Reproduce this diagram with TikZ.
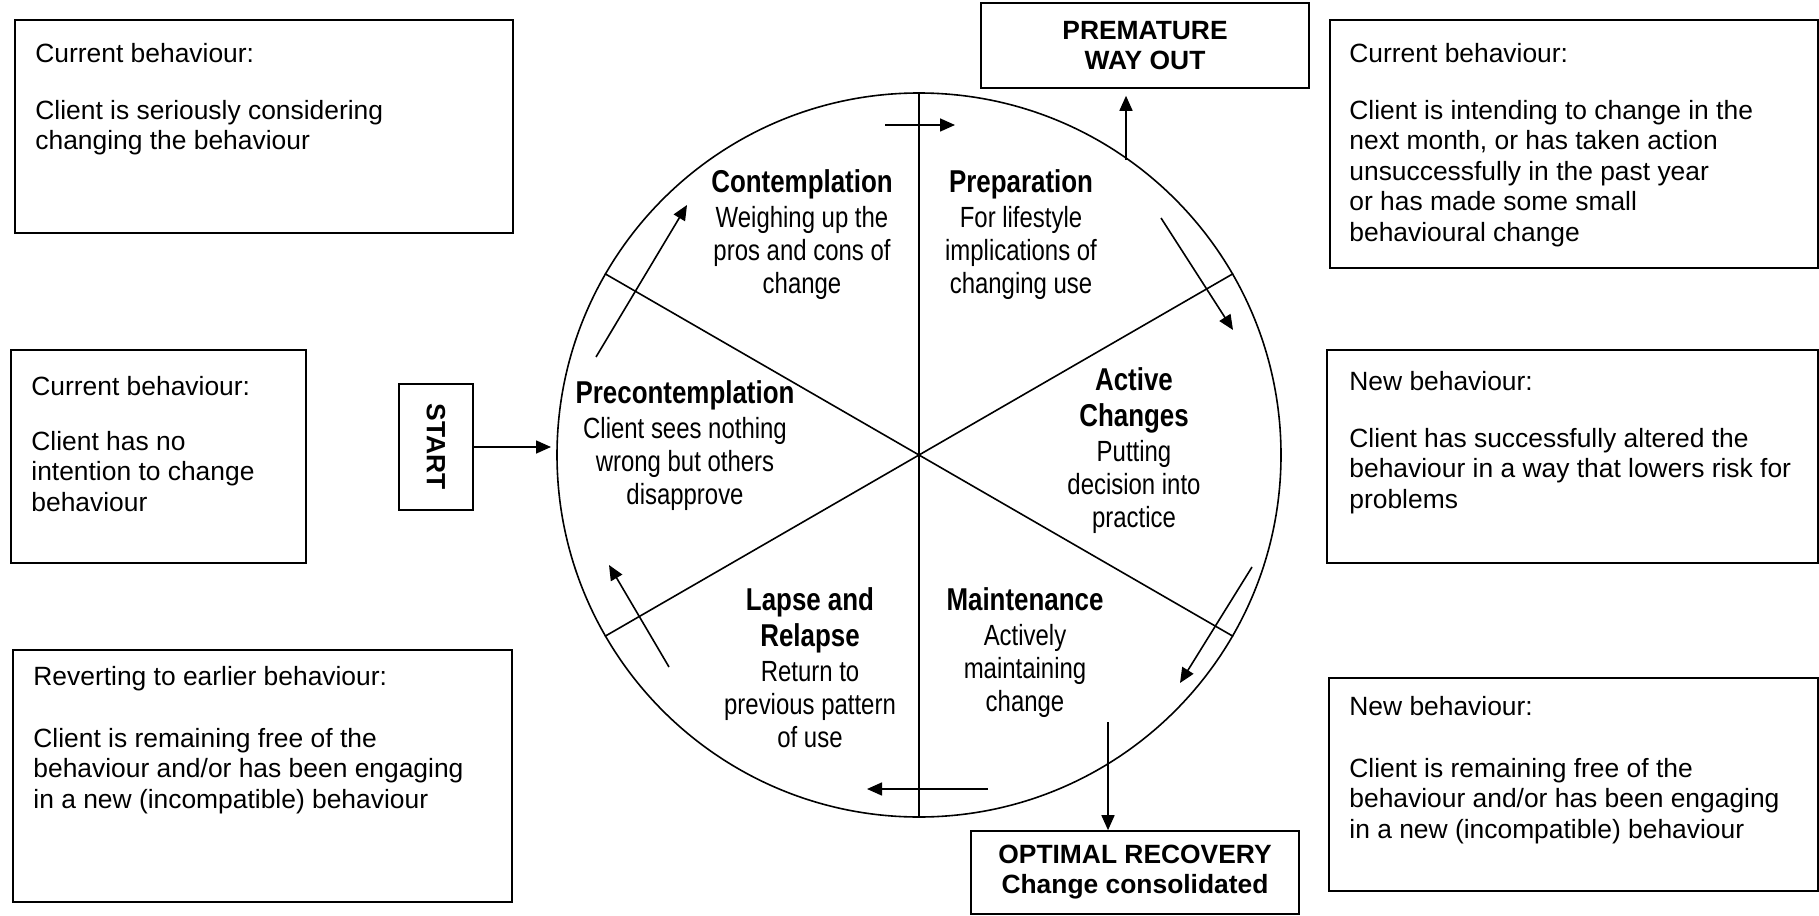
\documentclass[tikz,border=0pt]{standalone}
\usepackage{fontspec}
\setmainfont{Liberation Sans}
\newfontfamily\narrowfont[FakeStretch=0.82]{Liberation Sans}
\usetikzlibrary{arrows.meta, positioning}
\newcommand{\stagename}[1]{{\bfseries\fontsize{15.8}{18}\selectfont #1}}

\begin{document}
\begin{tikzpicture}[
    x=0.5pt, y=-0.5pt,
    infobox/.style={rectangle, draw, line width=0.8pt, anchor=north west, inner sep=0pt},
    infotext/.style={align=left, inner sep=0pt, font=\fontsize{13.2}{15.2}\selectfont},
    exitbox/.style={rectangle, draw, line width=0.8pt, align=center, inner sep=0pt, font=\bfseries\fontsize{13.2}{15}\selectfont},
    stage/.style={align=center, inner sep=0pt, font=\narrowfont\fontsize{14.6}{16.5}\selectfont},
    arrow/.style={-{Triangle[length=7.5pt, width=6.5pt]}, line width=0.8pt}
]
\useasboundingbox (0,0) rectangle (1819,915);

% Wheel with six sectors
\node[draw, circle, line width=0.8pt, minimum size=362pt, inner sep=0pt] (wheel) at (919,455) {};
\draw[line width=0.8pt] (wheel.north) -- (wheel.south);
\draw[line width=0.8pt] (wheel.150) -- (wheel.330);
\draw[line width=0.8pt] (wheel.30) -- (wheel.210);

% Stages
\node[stage] (contemp) at (802,235) {\stagename{Contemplation}\\[1pt] Weighing up the\\ pros and cons of\\ change};
\node[stage] (prep) at (1021,235) {\stagename{Preparation}\\[1pt] For lifestyle\\ implications of\\ changing use};
\node[stage] (precon) at (685,446) {\stagename{Precontemplation}\\[1pt] Client sees nothing\\ wrong but others\\ disapprove};
\node[stage] (active) at (1134,451) {\stagename{Active}\\[1.5pt] \stagename{Changes}\\[1pt] Putting\\ decision into\\ practice};
\node[stage] (lapse) at (810,668) {\stagename{Lapse and}\\[1.5pt] \stagename{Relapse}\\[1pt] Return to\\ previous pattern\\ of use};
\node[stage] (maint) at (1025,653) {\stagename{Maintenance}\\[1pt] Actively\\ maintaining\\ change};

% Ends of the cycle arrows
\coordinate (cp1) at (885,125);
\coordinate (cp2) at (955,125);
\coordinate (pa1) at (1161,218);
\coordinate (pa2) at (1233,330);
\coordinate (am1) at (1252,567);
\coordinate (am2) at (1180,683);
\coordinate (ml1) at (988,789);
\coordinate (ml2) at (867,789);
\coordinate (lp1) at (669,667);
\coordinate (lp2) at (609,565);
\coordinate (pc1) at (596,357);
\coordinate (pc2) at (687,205);
\coordinate (exitup) at (1126,160);
\coordinate (exitdown) at (1108,722);
\coordinate (entry) at (551,447);

% Cycle arrows
\draw[arrow] (cp1) -- (cp2);
\draw[arrow] (pa1) -- (pa2);
\draw[arrow] (am1) -- (am2);
\draw[arrow] (ml1) -- (ml2);
\draw[arrow] (lp1) -- (lp2);
\draw[arrow] (pc1) -- (pc2);

% Entry and exits
\node[exitbox, minimum width=63pt, minimum height=37pt, rotate=-90] (start) at (436,447) {START};
\node[exitbox, minimum width=164pt, minimum height=42.5pt] (wayout) at (1145,45.5) {PREMATURE\\WAY OUT};
\node[exitbox, minimum width=164pt, minimum height=41.5pt] (recovery) at (1135,872.5) {OPTIMAL RECOVERY\\Change consolidated};

\draw[arrow] (start) -- (entry);
\draw[arrow, shorten >=3.5pt] (exitup) -- (exitup |- wayout.south);
\draw[arrow] (exitdown) -- (exitdown |- recovery.north);

% Behaviour boxes
\node[infobox, minimum width=249pt, minimum height=106.5pt] (contbox) at (14,19) {};
\node[infotext, below right=11.75pt and 10.5pt of contbox.north west] (conttext) {Current behaviour:\\[13.5pt] Client is seriously considering\\ changing the behaviour};

\node[infobox, minimum width=244pt, minimum height=124pt] (prepbox) at (1329,19) {};
\node[infotext, below right=11.75pt and 10pt of prepbox.north west] (preptext) {Current behaviour:\\[13.5pt] Client is intending to change in the\\ next month, or has taken action\\ unsuccessfully in the past year\\ or has made some small\\ behavioural change};

\node[infobox, minimum width=147.5pt, minimum height=106.5pt] (preconbox) at (10,349) {};
\node[infotext, below right=13.25pt and 10.5pt of preconbox.north west] (precontext) {Current behaviour:\\[12.5pt] Client has no\\ intention to change\\ behaviour};

\node[infobox, minimum width=245.5pt, minimum height=106.5pt] (activebox) at (1326,349) {};
\node[infotext, below right=10.75pt and 11.5pt of activebox.north west] (activetext) {New behaviour:\\[13.5pt] Client has successfully altered the\\ behaviour in a way that lowers risk for\\ problems};

\node[infobox, minimum width=249.5pt, minimum height=126pt] (lapsebox) at (12,649) {};
\node[infotext, below right=8.25pt and 10.5pt of lapsebox.north west] (lapsetext) {Reverting to earlier behaviour:\\[16pt] Client is remaining free of the\\ behaviour and/or has been engaging\\ in a new (incompatible) behaviour};

\node[infobox, minimum width=244.5pt, minimum height=106.5pt] (maintbox) at (1328,677) {};
\node[infotext, below right=9.25pt and 10.5pt of maintbox.north west] (mainttext) {New behaviour:\\[16pt] Client is remaining free of the\\ behaviour and/or has been engaging\\ in a new (incompatible) behaviour};

\end{tikzpicture}
\end{document}
